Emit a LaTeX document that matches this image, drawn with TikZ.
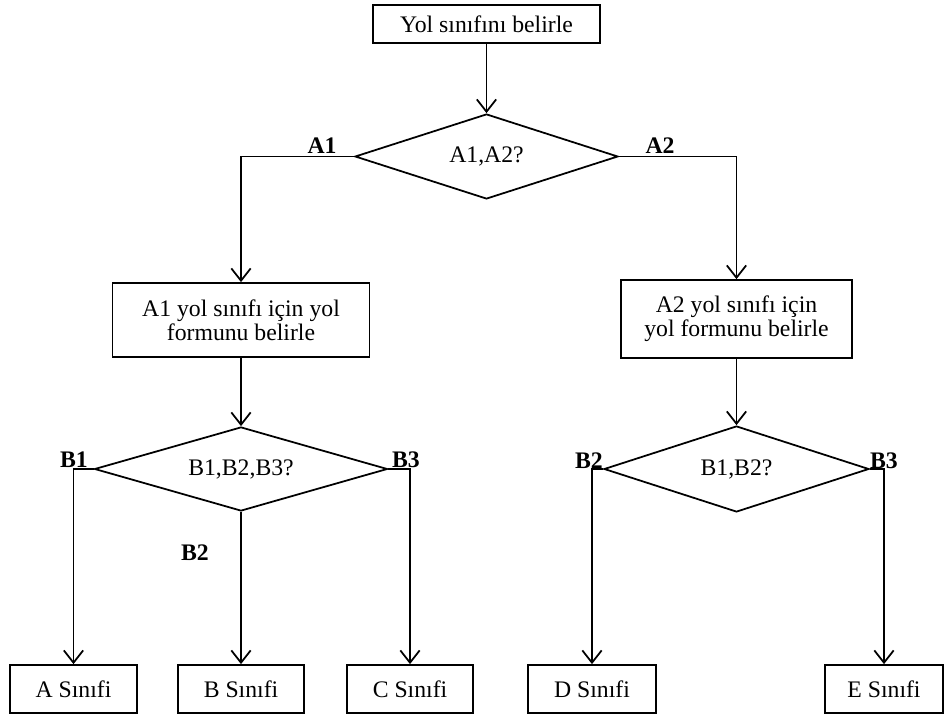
\documentclass[tikz,border=0pt]{standalone}
\usepackage{fontspec}
\setmainfont{Liberation Serif}
\usetikzlibrary{arrows.meta,shapes.geometric}

\tikzset{
  box/.style={draw, line width=1pt, rectangle, align=center, inner sep=2pt},
  decision/.style={draw, line width=1pt, diamond, inner sep=0pt},
  lbl/.style={font=\fontsize{13.5}{13.5}\selectfont\bfseries, inner sep=0pt},
  flow/.style={line width=1pt, -{Straight Barb[length=7pt,width=11pt]}},
}

\begin{document}
\begin{tikzpicture}[x=0.02cm, y=-0.02cm, font=\fontsize{13.5}{13.5}\selectfont]
  \useasboundingbox (0,0) rectangle (944,716);
  % steps and decisions
  \node[box, minimum width=4.54cm, minimum height=0.76cm] (start) at (486.5,24) {Yol sınıfını belirle};
  \node[decision, aspect=3.1, minimum width=5.26cm, minimum height=1.7cm] (dA) at (486.5,156.5) {A1,A2?};
  \node[box, minimum width=5.14cm, minimum height=1.48cm] (formA1) at (241,320) {A1 yol sınıfı için yol\\formunu belirle};
  \node[box, minimum width=4.62cm, minimum height=1.56cm] (formA2) at (736.5,319) {A2 yol sınıfı için\\yol formunu belirle};
  \node[decision, aspect=3.5, minimum width=5.86cm, minimum height=1.68cm] (dB) at (241,469) {B1,B2,B3?};
  \node[decision, aspect=3.08, minimum width=5.3cm, minimum height=1.72cm] (dC) at (736.5,469) {B1,B2?};
  % classes
  \node[box, minimum width=2.54cm, minimum height=0.96cm] (clsA) at (73.5,689) {A Sınıfi};
  \node[box, minimum width=2.52cm, minimum height=0.96cm] (clsB) at (241,689) {B Sınıfi};
  \node[box, minimum width=2.52cm, minimum height=0.96cm] (clsC) at (410,689) {C Sınıfi};
  \node[box, minimum width=2.56cm, minimum height=0.96cm] (clsD) at (592,689) {D Sınıfi};
  \node[box, minimum width=2.36cm, minimum height=0.96cm] (clsE) at (884,689) {E Sınıfi};
  % branch labels
  \node[lbl] (lA1) at (322,146) {A1};
  \node[lbl] (lA2) at (660,146) {A2};
  \node[lbl] (lB1) at (74,460) {B1};
  \node[lbl] (lB3) at (406,460) {B3};
  \node[lbl] (lB2) at (195,553) {B2};
  \node[lbl] (lB2r) at (589,461) {B2};
  \node[lbl] (lB3r) at (884,461) {B3};
  % connectors
  \draw[flow] (start) -- (dA);
  \draw[flow] (dA.west) -| (formA1.north);
  \draw[flow] (dA.east) -| (formA2.north);
  \draw[flow] (formA1) -- (dB);
  \draw[flow] (formA2) -- (dC);
  \draw[flow] (dB.west) -| (clsA.north);
  \draw[flow] (dB.south) -- (clsB.north);
  \draw[flow] (dB.east) -| (clsC.north);
  \draw[flow] (dC.west) -| (clsD.north);
  \draw[flow] (dC.east) -| (clsE.north);
\end{tikzpicture}
\end{document}
